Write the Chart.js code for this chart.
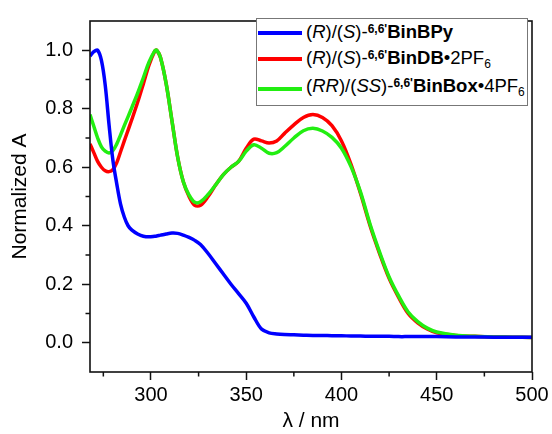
<!DOCTYPE html>
<html lang="en">
<head>
    <meta charset="UTF-8">
    <title>Normalized absorption spectra</title>
    <script src="https://cdn.jsdelivr.net/npm/chart.js"></script>
    <style>
        body {
            margin: 0;
            background: #fff;
            font-family: Arial, "Liberation Sans", sans-serif;
        }
        .wrap {
            position: relative;
            width: 552px;
            height: 434px;
        }
        .legend {
            position: absolute;
            left: 256px;
            top: 18px;
            width: 270px;
            height: 86px;
            border: 1px solid #777;
            background: #fff;
        }
        .swatch {
            position: absolute;
            left: 1px;
            width: 44px;
            height: 4px;
        }
        .txt {
            position: absolute;
            left: 49px;
            font-size: 18.5px;
            line-height: 18px;
            white-space: nowrap;
            color: #000;
        }
        .txt sup {
            font-size: 12px;
            font-weight: bold;
            vertical-align: baseline;
            position: relative;
            top: -5px;
        }
        .txt sub {
            font-size: 12px;
            vertical-align: baseline;
            position: relative;
            top: 4px;
        }
    </style>
</head>
<body>
    <div class="wrap">
        <canvas id="chart" width="552" height="434"></canvas>
        <div class="legend">
            <span class="swatch" style="top:12px;background:#0000ff"></span>
            <span class="txt" style="top:4px">(<i>R</i>)/(<i>S</i>)-<sup>6,6'</sup><b>BinBPy</b></span>
            <span class="swatch" style="top:38px;background:#ff0000"></span>
            <span class="txt" style="top:30px">(<i>R</i>)/(<i>S</i>)-<sup>6,6'</sup><b>BinDB</b>•2PF<sub>6</sub></span>
            <span class="swatch" style="top:68px;background:#22ee11"></span>
            <span class="txt" style="top:58px">(<i>RR</i>)/(<i>SS</i>)-<sup>6,6'</sup><b>BinBox</b>•4PF<sub>6</sub></span>
        </div>
    </div>

    <script>
        // wavelengths (nm) shared by all three spectra
        const wavelength = [268, 270, 272, 274, 276, 278, 280, 282, 284, 286, 288, 290, 293, 296, 299, 302, 303, 305, 308, 311,
            314, 317, 320, 323, 326, 330, 334, 338, 342, 346, 350, 354, 358, 362, 366, 370, 375, 380, 385, 390,
            395, 400, 405, 410, 415, 420, 425, 430, 435, 440, 445, 450, 460, 470, 480, 490, 500];

        const binBPy = [0.98, 0.995, 1.0, 0.965, 0.88, 0.745, 0.625, 0.545, 0.475, 0.43, 0.40, 0.385, 0.372, 0.364, 0.362, 0.364, 0.365, 0.368, 0.372, 0.375,
            0.374, 0.368, 0.36, 0.35, 0.336, 0.305, 0.27, 0.235, 0.2, 0.168, 0.135, 0.088, 0.047, 0.034, 0.030, 0.028, 0.027, 0.026, 0.025, 0.025,
            0.024, 0.024, 0.023, 0.023, 0.022, 0.022, 0.022, 0.021, 0.021, 0.021, 0.021, 0.021, 0.020, 0.020, 0.019, 0.019, 0.019];

        const binDB = [0.68, 0.65, 0.62, 0.60, 0.588, 0.585, 0.592, 0.615, 0.652, 0.69, 0.727, 0.764, 0.822, 0.885, 0.95, 0.997, 1.0, 0.975, 0.885, 0.76,
            0.635, 0.55, 0.50, 0.47, 0.47, 0.50, 0.54, 0.575, 0.60, 0.62, 0.665, 0.696, 0.69, 0.683, 0.69, 0.715, 0.745, 0.77, 0.78, 0.77,
            0.742, 0.69, 0.61, 0.51, 0.40, 0.305, 0.22, 0.155, 0.10, 0.068, 0.047, 0.034, 0.025, 0.022, 0.02, 0.019, 0.018];

        const binBox = [0.78, 0.74, 0.70, 0.67, 0.655, 0.649, 0.657, 0.679, 0.71, 0.742, 0.773, 0.805, 0.853, 0.906, 0.96, 0.998, 1.0, 0.975, 0.885, 0.76,
            0.635, 0.55, 0.505, 0.48, 0.482, 0.507, 0.54, 0.575, 0.60, 0.62, 0.655, 0.677, 0.665, 0.648, 0.65, 0.67, 0.70, 0.725, 0.733, 0.724,
            0.702, 0.665, 0.602, 0.515, 0.405, 0.31, 0.225, 0.16, 0.105, 0.072, 0.05, 0.037, 0.026, 0.022, 0.02, 0.019, 0.018];

        const xTicks = [300, 350, 400, 450, 500];
        const xMinor = [275, 325, 375, 425, 475];
        const yTicks = [0.0, 0.2, 0.4, 0.6, 0.8, 1.0];
        const yMinor = [0.1, 0.3, 0.5, 0.7, 0.9];

        const FONT = 'Arial, "Liberation Sans", sans-serif';
        Chart.defaults.font.family = FONT;
        Chart.defaults.color = '#000';

        function toPoints(ys) {
            return wavelength.map((x, i) => ({ x: x, y: ys[i] }));
        }

        // frame around the plot + minor tick marks
        const framePlugin = {
            id: 'frame',
            afterDraw(chart) {
                const ctx = chart.ctx;
                const a = chart.chartArea;
                const xs = chart.scales.x;
                const ys = chart.scales.y;
                ctx.save();
                ctx.strokeStyle = '#111';
                ctx.lineWidth = 1.5;
                ctx.beginPath();
                xMinor.forEach(v => {
                    const px = xs.getPixelForValue(v);
                    ctx.moveTo(px, a.bottom);
                    ctx.lineTo(px, a.bottom + 4.5);
                });
                yMinor.forEach(v => {
                    const py = ys.getPixelForValue(v);
                    ctx.moveTo(a.left, py);
                    ctx.lineTo(a.left - 4.5, py);
                });
                ctx.stroke();
                ctx.lineWidth = 1.6;
                ctx.strokeRect(a.left, a.top, a.right - a.left, a.bottom - a.top);
                ctx.restore();
            }
        };

        const lineStyle = {
            borderWidth: 3.5,
            pointRadius: 0,
            fill: false,
            tension: 0.35
        };

        new Chart(document.getElementById('chart').getContext('2d'), {
            type: 'line',
            data: {
                datasets: [
                    Object.assign({ label: '(R)/(S)-6,6\'BinBPy', data: toPoints(binBPy), borderColor: '#0000ff', order: 0 }, lineStyle),
                    Object.assign({ label: '(R)/(S)-6,6\'BinDB•2PF6', data: toPoints(binDB), borderColor: '#ff0000', order: 2 }, lineStyle),
                    Object.assign({ label: '(RR)/(SS)-6,6\'BinBox•4PF6', data: toPoints(binBox), borderColor: '#22ee11', order: 1 }, lineStyle)
                ]
            },
            options: {
                responsive: false,
                animation: false,
                layout: { padding: { top: 14, right: 20, left: 0, bottom: 0 } },
                plugins: {
                    legend: { display: false },
                    tooltip: { enabled: false }
                },
                scales: {
                    x: {
                        type: 'linear',
                        min: 268,
                        max: 500,
                        afterFit(scale) { scale.height = 62; },
                        afterBuildTicks(scale) { scale.ticks = xTicks.map(v => ({ value: v })); },
                        border: { display: false },
                        grid: { drawOnChartArea: false, color: '#111', tickLength: 8, tickWidth: 1.5 },
                        ticks: { font: { size: 20 }, padding: 3, maxRotation: 0 },
                        title: { display: true, text: 'λ / nm', font: { size: 21 }, padding: { top: 0, bottom: 0 } }
                    },
                    y: {
                        min: -0.1,
                        max: 1.1,
                        afterFit(scale) { scale.width = 90; },
                        afterBuildTicks(scale) { scale.ticks = yTicks.map(v => ({ value: v })); },
                        border: { display: false },
                        grid: { drawOnChartArea: false, color: '#111', tickLength: 8, tickWidth: 1.5 },
                        ticks: { font: { size: 20 }, padding: 9, callback: v => v.toFixed(1) },
                        title: { display: true, text: 'Normalized A', font: { size: 21 }, padding: { top: 8, bottom: 0 } }
                    }
                }
            },
            plugins: [framePlugin]
        });
    </script>
</body>
</html>
